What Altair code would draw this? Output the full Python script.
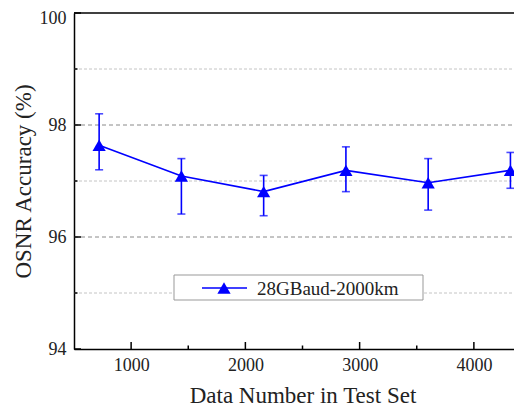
import altair as alt
import pandas as pd

# ---- data ----
data_number = [720, 1440, 2160, 2880, 3600, 4320]
accuracy = [97.64, 97.09, 96.81, 97.19, 96.97, 97.19]
err_high = [98.20, 97.40, 97.10, 97.61, 97.40, 97.51]
err_low = [97.20, 96.41, 96.38, 96.81, 96.48, 96.87]
series_name = "28GBaud-2000km"

x_major_ticks = [1000, 2000, 3000, 4000]
x_minor_ticks = [1500, 2500, 3500]
y_major_ticks = [94, 96, 98, 100]
y_minor_ticks = [95, 97, 99]
grid_major = [96, 98]
grid_minor = [95, 97, 99]

df = pd.DataFrame({"n": data_number, "acc": accuracy, "hi": err_high, "lo": err_low})

W_FULL, W, H = 457, 440, 336
FONT = "Liberation Serif"
BLUE = "#0000ff"

xs = alt.Scale(domain=[500, 4500], nice=False, zero=False, range=[0, W_FULL])
ys = alt.Scale(domain=[94, 100], nice=False, zero=False)
xax = alt.Axis(values=x_major_ticks, title="Data Number in Test Set", tickSize=0,
               labelPadding=7, titlePadding=10, grid=False, format="d",
               titleX=W_FULL / 2, titleAnchor="middle", titleAlign="center")
yax = alt.Axis(values=y_major_ticks, title="OSNR Accuracy (%)", tickSize=0,
               labelPadding=8, titlePadding=4, grid=False, format="d",
               labelOffset={"condition": {"test": "datum.value >= 100", "value": 5},
                            "value": 0})


def X(field):
    return alt.X(field, type="quantitative", scale=xs, axis=xax)


def Y(field):
    return alt.Y(field, type="quantitative", scale=ys, axis=yax)


base = alt.Chart(df)

grid_maj = alt.Chart(pd.DataFrame({"g": grid_major})).mark_rule(
    color="#8a8a8a", strokeDash=[4, 3], strokeWidth=1).encode(
    y=Y("g"), x=alt.value(0), x2=alt.value(W_FULL))
grid_min = alt.Chart(pd.DataFrame({"g": grid_minor})).mark_rule(
    color="#c4c4c4", strokeDash=[3, 2], strokeWidth=1).encode(
    y=Y("g"), x=alt.value(0), x2=alt.value(W_FULL))

frame_top = alt.Chart(alt.Data(values=[{}])).mark_rule(color="black", strokeWidth=1.5).encode(
    x=alt.value(0), x2=alt.value(W_FULL), y=alt.value(0))

xt_major = alt.Chart(pd.DataFrame({"t": x_major_ticks})).mark_rule(
    color="black", strokeWidth=1.5).encode(x=X("t"), y=alt.value(H), y2=alt.value(H - 7))
xt_minor = alt.Chart(pd.DataFrame({"t": x_minor_ticks})).mark_rule(
    color="black", strokeWidth=1.5).encode(x=X("t"), y=alt.value(H), y2=alt.value(H - 3.5))
yt_major = alt.Chart(pd.DataFrame({"t": y_major_ticks})).mark_rule(
    color="black", strokeWidth=1.5).encode(y=Y("t"), x=alt.value(0), x2=alt.value(7))
yt_minor = alt.Chart(pd.DataFrame({"t": y_minor_ticks})).mark_rule(
    color="black", strokeWidth=1.5).encode(y=Y("t"), x=alt.value(0), x2=alt.value(3.5))

err = base.mark_rule(color=BLUE, strokeWidth=1.6).encode(x=X("n"), y=Y("lo"), y2="hi")
cap_hi = base.mark_tick(color=BLUE, orient="horizontal", size=8, thickness=1.6).encode(
    x=X("n"), y=Y("hi"))
cap_lo = base.mark_tick(color=BLUE, orient="horizontal", size=8, thickness=1.6).encode(
    x=X("n"), y=Y("lo"))
line = base.mark_line(color=BLUE, strokeWidth=1.6).encode(x=X("n"), y=Y("acc"))
pts = base.mark_point(shape="triangle-up", filled=True, opacity=1, color=BLUE,
                      size=175).encode(x=X("n"), y=Y("acc"))

one = alt.Data(values=[{"label": series_name}])
leg_box = alt.Chart(one).mark_rect(fill="white", stroke="#999999", strokeWidth=1).encode(
    x=alt.value(100), x2=alt.value(349), y=alt.value(262), y2=alt.value(287))
leg_line = alt.Chart(one).mark_rule(color=BLUE, strokeWidth=1.6).encode(
    x=alt.value(128), x2=alt.value(173), y=alt.value(275))
leg_pt = alt.Chart(one).mark_point(shape="triangle-up", filled=True, opacity=1,
                                   color=BLUE, size=175).encode(
    x=alt.value(150), y=alt.value(275))
leg_txt = alt.Chart(one).mark_text(font=FONT, fontSize=19, color="#222222", align="left",
                                   baseline="middle").encode(
    x=alt.value(183), y=alt.value(275.5), text="label:N")

chart = alt.layer(
    grid_min, grid_maj, frame_top, xt_major, xt_minor, yt_major, yt_minor,
    err, cap_hi, cap_lo, line, pts,
    leg_box, leg_line, leg_pt, leg_txt,
).properties(
    width=W, height=H,
    autosize=alt.AutoSizeParams(type="none"),
    padding={"left": 66, "top": 5, "right": 0, "bottom": 61},
).configure_view(
    stroke=None
).configure_axis(
    labelFont=FONT, labelFontSize=18, labelColor="#222222",
    titleFont=FONT, titleFontSize=23, titleFontWeight="normal", titleColor="#222222",
    domainColor="black", domainWidth=1.5,
)

chart.save("out.html", embed_options={"renderer": "svg", "actions": False})
